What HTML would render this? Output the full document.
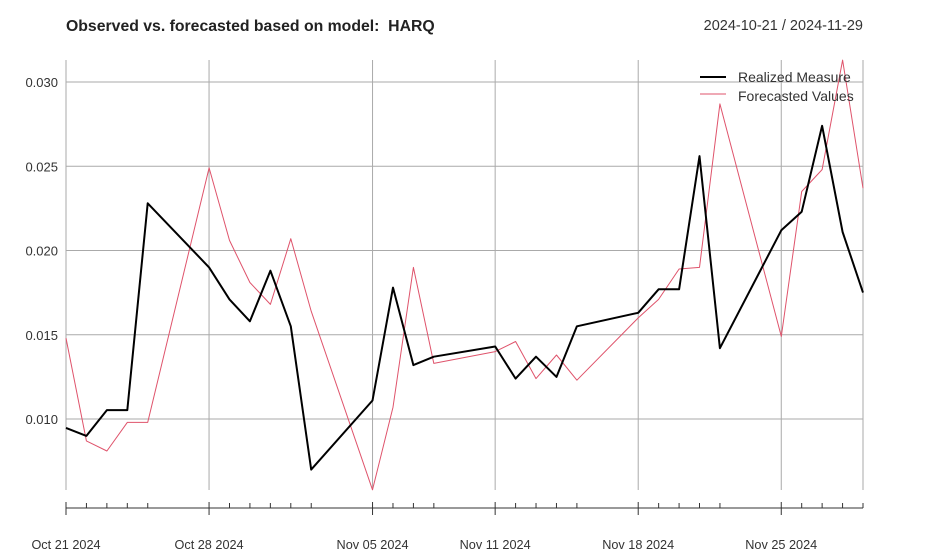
<!DOCTYPE html>
<html><head><meta charset="utf-8"><style>
body{margin:0;background:#fff;}
svg{display:block;font-family:"Liberation Sans",Arial,sans-serif;}
</style></head><body>
<svg id="chart" width="930" height="560" viewBox="0 0 930 560">
<rect width="930" height="560" fill="#fff"/>
<text x="66" y="31" font-size="15.8" font-weight="bold" fill="#222">Observed vs. forecasted based on model:&#160; HARQ</text>
<text x="863" y="30" font-size="14.5" fill="#333" text-anchor="end">2024-10-21 / 2024-11-29</text>
<g id="grid"></g><g id="axes"></g><g id="series"></g>
<g>
<line x1="700" y1="77" x2="726" y2="77" stroke="#000" stroke-width="2"/>
<text x="738" y="82" font-size="14" fill="#333">Realized Measure</text>
<line x1="700" y1="94" x2="726" y2="94" stroke="#DF536B" stroke-width="1"/>
<text x="738" y="101" font-size="14" fill="#333">Forecasted Values</text>
</g>
</svg>
<script>
const dayOffsets=[0,1,2,3,4,7,8,9,10,11,12,15,16,17,18,21,22,23,24,25,28,29,30,31,32,35,36,37,38,39];
const realized=[0.00947,0.0090,0.01053,0.01053,0.0228,0.0190,0.0171,0.0158,0.0188,0.0155,0.0070,0.0111,0.0178,0.0132,0.0137,0.0143,0.0124,0.0137,0.0125,0.0155,0.0163,0.0177,0.0177,0.0256,0.0142,0.0212,0.0223,0.0274,0.0211,0.0175];
const forecast=[0.0148,0.0087,0.0081,0.0098,0.0098,0.0249,0.0206,0.0181,0.0168,0.0207,0.0164,0.0058,0.0107,0.0190,0.0133,0.0140,0.0146,0.0124,0.0138,0.0123,0.0160,0.0171,0.0189,0.0190,0.0287,0.0149,0.0235,0.0248,0.0313,0.0237];
const yTicks=[0.010,0.015,0.020,0.025,0.030];
const yTickLabels=["0.010","0.015","0.020","0.025","0.030"];
const xMajorDays=[0,7,15,21,28,35];
const xMajorLabels=["Oct 21 2024","Oct 28 2024","Nov 05 2024","Nov 11 2024","Nov 18 2024","Nov 25 2024"];

const NS="http://www.w3.org/2000/svg";
const x=d=>66+d*(797/39);
const y=v=>419-(v-0.010)/0.005*84.25;
function mk(tag,attrs,parent){const e=document.createElementNS(NS,tag);for(const k in attrs)e.setAttribute(k,attrs[k]);parent.appendChild(e);return e;}
const grid=document.getElementById('grid'),axes=document.getElementById('axes'),series=document.getElementById('series');
yTicks.forEach((t,i)=>{
  const l=mk('line',{x1:66,x2:863,y1:y(t),y2:y(t),stroke:'#aaa','stroke-width':1},grid);
  
  
  const tx=mk('text',{x:58,y:y(t)+5,'font-size':13,fill:'#333','text-anchor':'end'},axes);
  tx.textContent=yTickLabels[i];
  
  
});
const vlines=xMajorDays.concat([39]);
vlines.forEach(d=>{
  const l=mk('line',{x1:x(d),x2:x(d),y1:60,y2:490,stroke:'#aaa','stroke-width':1},grid);
  
  
});
const ax=mk('line',{x1:66,x2:863,y1:508,y2:508,stroke:'#333','stroke-width':1},axes);


dayOffsets.forEach(d=>{
  const major=xMajorDays.includes(d);
  const t=mk('line',{x1:x(d),x2:x(d),y1:major?502:503,y2:major?515:508,stroke:'#333','stroke-width':1},axes);
  
  
});
xMajorDays.forEach((d,i)=>{
  const tx=mk('text',{x:x(d),y:549,'font-size':12.7,fill:'#333','text-anchor':'middle'},axes);
  tx.textContent=xMajorLabels[i];
  
  
});
function line(vals,color,w,name){
  const pts=vals.map((v,i)=>x(dayOffsets[i]).toFixed(1)+','+y(v).toFixed(1)).join(' ');
  const p=mk('polyline',{points:pts,fill:'none',stroke:color,'stroke-width':w,'stroke-linejoin':'round'},series);
  
  
}
line(forecast,'#DF536B',1,'forecast-line');
line(realized,'#000',2,'realized-line');
</script>
</body></html>
